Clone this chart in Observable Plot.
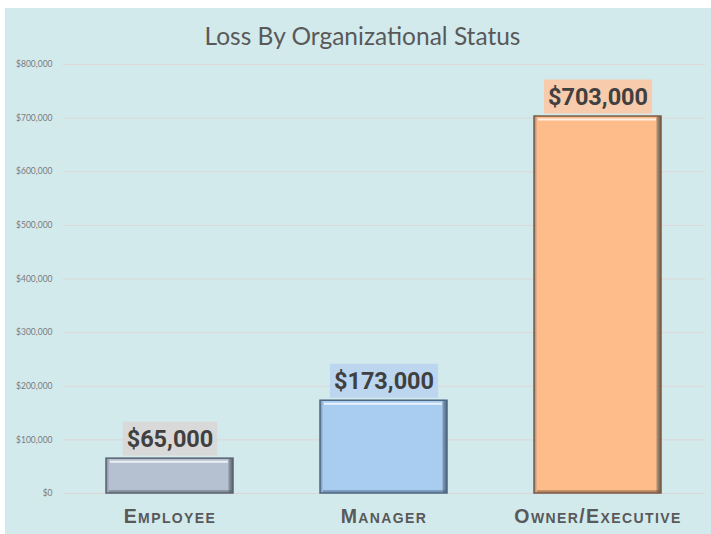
<!DOCTYPE html>
<html>
<head>
<meta charset="utf-8">
<script src="https://cdn.jsdelivr.net/npm/d3@7"></script>
<script src="https://cdn.jsdelivr.net/npm/@observablehq/plot@0.6"></script>
<style>
  html, body { margin: 0; padding: 0; background: #ffffff; }
  #panel { position: absolute; left: 5px; top: 8px; width: 706px; height: 526px; background: #d3eaed; }
  g[aria-label="x-axis tick label"] text { letter-spacing: 1.4px; }
</style>
</head>
<body>
<div id="panel"></div>
<script>
const title = "Loss By Organizational Status";
const categories = ["Employee", "Manager", "Owner/Executive"];
const losses = [65000, 173000, 703000];
const barColors = ["#b5c0d1", "#a9cdf1", "#ffbc8b"];
const barEdgeColors = ["#5a6270", "#4d6784", "#7a5a44"];
const labelBgColors = ["#d9d9d9", "#bcd6ef", "#f8cbad"];
const yTicks = [0, 100000, 200000, 300000, 400000, 500000, 600000, 700000, 800000];

const data = categories.map((c, i) => ({
  category: c, loss: losses[i], color: barColors[i], edge: barEdgeColors[i],
  bg: labelBgColors[i], grad: `url(#bevel${i})`
}));
const money = d3.format("$,");

const chart = Plot.plot({
  width: 706,
  height: 526,
  marginTop: 56,
  marginBottom: 41,
  marginLeft: 58,
  marginRight: 6,
  style: {background: "transparent", overflow: "visible"},
  x: {domain: categories, paddingInner: 0.406, paddingOuter: 0.203, label: null},
  y: {domain: [0, 800000], label: null},
  color: {type: "identity"},
  marks: [
    Plot.ruleY(yTicks, {stroke: "#dcd6d6", strokeWidth: 1}),
    Plot.axisY({ticks: yTicks, tickSize: 0, tickPadding: 11, tickFormat: money, fontSize: 8.5, fill: "#7a7a7a", fontFamily: "Lato, 'Liberation Sans', sans-serif"}),
    Plot.axisX({tickSize: 0, tickPadding: 16, fontSize: 19.5, fontWeight: "bold", fontVariant: "small-caps", fill: "#595959", fontFamily: "'Liberation Sans', Arial, sans-serif", tickFormat: d => d}),
    Plot.barY(data, {x: "category", y: "loss", fill: "grad", stroke: "edge", strokeWidth: 1.5}),
    Plot.tickY(data, {x: "category", y: "loss", dy: 3, stroke: "#ffffff", strokeOpacity: 0.75, strokeWidth: 2, insetLeft: 4, insetRight: 5}),
    Plot.tickY(data, {x: "category", y: 0, dy: -2, stroke: "edge", strokeOpacity: 0.55, strokeWidth: 2.5, insetLeft: 3, insetRight: 1}),
    Plot.text(data, {x: "category", y: "loss", text: d => money(d.loss), lineAnchor: "bottom", dy: -11.5, fontSize: 23.5, fontWeight: "bold", fill: "#404040", fontFamily: "Roboto, 'Open Sans', sans-serif", className: "value-label"}),
    Plot.text([title], {frameAnchor: "top", dx: -22, dy: -37, fontSize: 24.5, fill: "#595959", fontFamily: "Lato, 'Open Sans', sans-serif", fontWeight: 400})
  ]
});

document.getElementById("panel").appendChild(chart);

// horizontal bevel gradients for the bars (colours from the arrays above)
const svgNS = "http://www.w3.org/2000/svg";
const defs = document.createElementNS(svgNS, "defs");
data.forEach((d, i) => {
  const g = document.createElementNS(svgNS, "linearGradient");
  g.setAttribute("id", `bevel${i}`);
  g.setAttribute("x1", "0"); g.setAttribute("x2", "1"); g.setAttribute("y1", "0"); g.setAttribute("y2", "0");
  [[0, d.edge, 0.6], [0.025, d.color, 1], [0.96, d.color, 1], [0.975, d.edge, 0.7], [1, d.edge, 1]].forEach(([o, c, op]) => {
    const s = document.createElementNS(svgNS, "stop");
    s.setAttribute("offset", o);
    s.setAttribute("stop-color", c);
    s.setAttribute("stop-opacity", op);
    g.appendChild(s);
  });
  defs.appendChild(g);
});
chart.insertBefore(defs, chart.firstChild);

// background boxes behind value labels, sized from the rendered text
const labelGroup = chart.querySelector("g.value-label");
if (labelGroup) {
  const texts = Array.from(labelGroup.querySelectorAll("text"));
  texts.forEach((t, i) => {
    const bb = t.getBBox();
    const rect = document.createElementNS(svgNS, "rect");
    rect.setAttribute("x", bb.x - 4);
    rect.setAttribute("y", bb.y - 3.5);
    rect.setAttribute("width", bb.width + 8);
    rect.setAttribute("height", bb.height + 6);
    rect.setAttribute("fill", data[i].bg);
    const tr = t.getAttribute("transform");
    if (tr) rect.setAttribute("transform", tr);
    labelGroup.insertBefore(rect, labelGroup.firstChild);
  });
}
</script>
</body>
</html>
